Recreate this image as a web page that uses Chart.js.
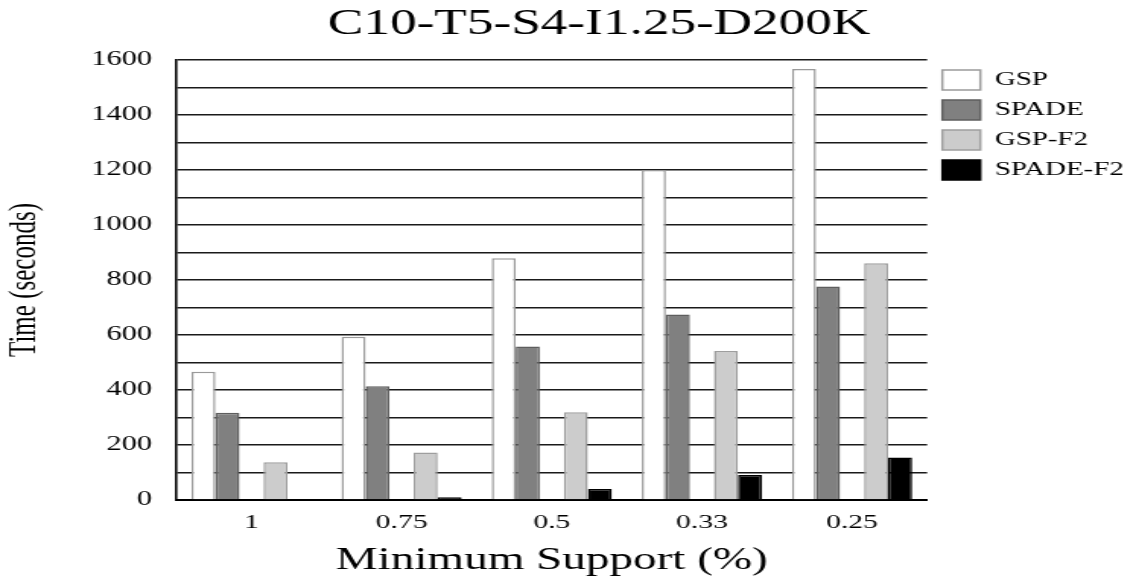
<!DOCTYPE html>
<html>
<head>
<meta charset="utf-8">
<script src="https://cdn.jsdelivr.net/npm/chart.js@4/dist/chart.umd.min.js"></script>
<style>
  html, body { margin: 0; padding: 0; background: #fff; overflow: hidden; }
  #wrap {
    position: absolute; left: 0; top: 0;
    width: 749px; height: 583px;
    transform: scaleX(1.5207);
    transform-origin: 0 0;
  }
  canvas { display: block; }
</style>
</head>
<body>
<div id="wrap"><canvas id="chart" width="749" height="583"></canvas></div>
<script>
// Minimum support levels (%) along the x axis
const categories = ['1', '0.75', '0.5', '0.33', '0.25'];

// Running time in seconds for each algorithm
const gsp     = [466, 594, 879, 1200, 1567];
const spade   = [317, 414, 558, 675, 776];
const gspF2   = [137, 173, 319, 542, 861];
const spadeF2 = [0, 10, 40, 91, 155];

// Y axis: gridline every 100 s, labels every 200 s
const yTickLabels = [0, 200, 400, 600, 800, 1000, 1200, 1400, 1600];

const chartTitle = 'C10-T5-S4-I1.25-D200K';
const xTitle = 'Minimum Support (%)';
const yTitle = 'Time (seconds)';

const SERIF = '"Liberation Serif", "DejaVu Serif", serif';

// Title drawn centred over the page-wide figure
const titlePlugin = {
  id: 'figureTitle',
  afterDraw(chart) {
    const ctx = chart.ctx;
    ctx.save();
    ctx.font = '35px ' + SERIF;
    ctx.fillStyle = '#000';
    ctx.textAlign = 'center';
    ctx.textBaseline = 'alphabetic';
    ctx.fillText(chartTitle, 394, 34);
    ctx.restore();
  }
};

const series = [
  { label: 'GSP',      data: gsp,     backgroundColor: '#ffffff', borderColor: '#9a9a9a' },
  { label: 'SPADE',    data: spade,   backgroundColor: '#808080', borderColor: '#5e5e5e' },
  { label: '',         data: categories.map(() => null), backgroundColor: 'rgba(0,0,0,0)', borderColor: 'rgba(0,0,0,0)' },
  { label: 'GSP-F2',   data: gspF2,   backgroundColor: '#cccccc', borderColor: '#9e9e9e' },
  { label: 'SPADE-F2', data: spadeF2, backgroundColor: '#000000', borderColor: '#000000' }
];

new Chart(document.getElementById('chart'), {
  type: 'bar',
  data: {
    labels: categories,
    datasets: series.map(s => Object.assign({
      borderWidth: 1.5,
      borderSkipped: 'bottom',
      barPercentage: 1.0,
      categoryPercentage: 0.8
    }, s))
  },
  options: {
    responsive: false,
    animation: false,
    devicePixelRatio: 1,
    layout: { padding: { top: 60, left: 0, right: 0, bottom: 0 } },
    plugins: {
      title: { display: false },
      tooltip: { enabled: false },
      legend: {
        position: 'right',
        align: 'start',
        labels: {
          filter: item => item.text !== '',
          boxWidth: 25,
          boxHeight: 20,
          padding: 10,
          color: '#000',
          font: { family: SERIF, size: 19 }
        }
      }
    },
    scales: {
      x: {
        offset: true,
        grid: { display: false, drawTicks: false },
        border: { display: true, color: '#000', width: 2 },
        ticks: { color: '#000', padding: 11, font: { family: SERIF, size: 19.5 } },
        title: {
          display: true, text: xTitle, color: '#000',
          font: { family: SERIF, size: 31 },
          padding: { top: 8, bottom: 4 }
        },
        afterFit: scale => { scale.height = 83; }
      },
      y: {
        min: 0,
        max: 1600,
        grid: { color: '#1a1a1a', lineWidth: 1.5, drawTicks: false },
        border: { display: true, color: '#000', width: 1.6 },
        ticks: {
          stepSize: 100,
          padding: 16,
          color: '#000',
          font: { family: SERIF, size: 20 },
          callback: v => yTickLabels.includes(v) ? String(v) : ''
        },
        title: {
          display: true, text: yTitle, color: '#000',
          font: { family: SERIF, size: 25 },
          padding: { top: 1, bottom: 0 }
        },
        afterFit: scale => { scale.width = 116; }
      }
    }
  },
  plugins: [titlePlugin]
});
</script>
</body>
</html>
